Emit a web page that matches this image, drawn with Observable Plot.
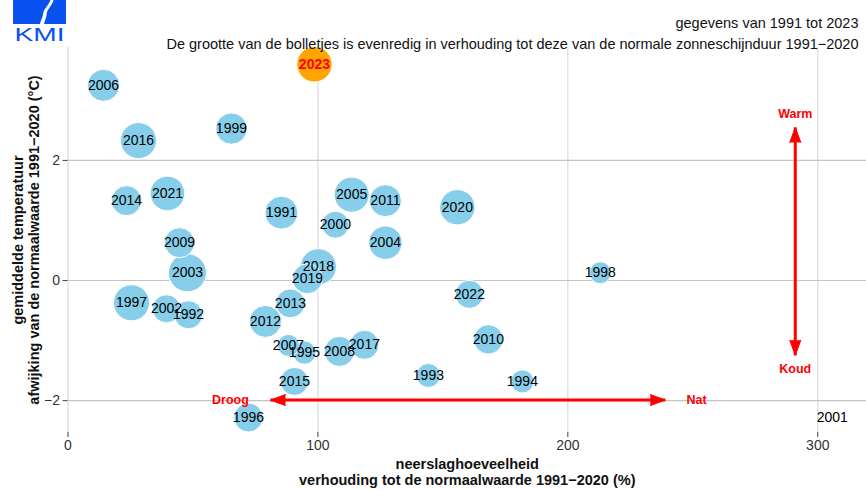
<!DOCTYPE html>
<html>
<head>
<meta charset="utf-8">
<script src="https://cdn.jsdelivr.net/npm/d3@7"></script>
<script src="https://cdn.jsdelivr.net/npm/@observablehq/plot@0.6"></script>
<style>
  html, body { margin: 0; padding: 0; background: white; }
  #wrap { position: relative; width: 866px; height: 490px; font-family: "Liberation Sans", Arial, sans-serif; }
  #logo { position: absolute; left: 12px; top: 0; }
</style>
</head>
<body>
<div id="wrap">
  <div id="chart"></div>
  <svg id="logo" width="56" height="44" viewBox="-1 0 56 44">
    <rect x="0" y="0" width="53" height="24" fill="#0a52f0"/>
    <path d="M37.5,0 L40.5,0 C39,6 34,9.5 33.7,13.5 C33.5,17.5 31.5,21 31,24 L27,24 C27.5,20.5 30,17 30.3,13 C30.6,9 36,5 37.5,0 Z" fill="white"/>
    <text x="26.5" y="40.5" text-anchor="middle" font-size="19" fill="#0a52f0" font-family="Liberation Sans, Arial, sans-serif" textLength="50" lengthAdjust="spacingAndGlyphs">KMI</text>
  </svg>
</div>
<script>
// ---- data ----
const years    = [1991, 1992, 1993, 1994, 1995, 1996, 1997, 1998, 1999, 2000, 2001, 2002, 2003, 2004, 2005, 2006, 2007, 2008, 2009, 2010, 2011, 2012, 2013, 2014, 2015, 2016, 2017, 2018, 2019, 2020, 2021, 2022, 2023];
// precipitation, % of normal 1991-2020
const precipitation = [85.4, 48.2, 144.2, 181.8, 94.6, 72.2, 25.4, 213, 65.4, 107, 305.8, 39.4, 47.8, 127, 113.5, 14.2, 88.2, 108.6, 44.6, 168.2, 127, 79, 89, 23.4, 90.6, 28.2, 118.6, 100.2, 95.8, 155.8, 39.8, 160.6, 98.6];
// mean temperature anomaly vs 1991-2020 (°C)
const temperature = [1.13, -0.57, -1.58, -1.68, -1.2, -2.28, -0.37, 0.13, 2.53, 0.93, -2.28, -0.47, 0.13, 0.63, 1.43, 3.25, -1.08, -1.18, 0.63, -0.98, 1.33, -0.68, -0.38, 1.33, -1.68, 2.33, -1.07, 0.23, 0.03, 1.22, 1.45, -0.23, 3.6];
// sunshine duration, % of normal 1991-2020 (bubble size)
const sunshine = [106, 77, 56, 52, 53, 82, 127, 47, 96, 71, 0, 77, 141, 109, 120, 100, 47, 88, 88, 84, 100, 100, 82, 88, 77, 127, 82, 127, 88, 122, 117, 77, 122];

const highlightYear = 2023;
const xTicks = [0, 100, 200, 300];
const yTicks = [-2, 0, 2];

// annotation arrows (data units)
const dryWetArrow = {from: 81, to: 239, y: -1.99};
const dryWetLabels = [{label: "Droog", x: 65, y: -1.99}, {label: "Nat", x: 251.5, y: -1.99}];
const warmColdArrow = {x: 291, from: -1.245, to: 2.55};
const warmColdLabels = [{label: "Warm", x: 291, y: 2.78}, {label: "Koud", x: 291, y: -1.48}];

const data = years.map((year, i) => ({year, precip: precipitation[i], temp: temperature[i], sun: sunshine[i]}));
const dotsOrder = data.slice().sort((a, b) => b.sun - a.sun);
const others = dotsOrder.filter(d => d.year !== highlightYear);
const hi = data.filter(d => d.year === highlightYear);

const font = "Liberation Sans, Arial, sans-serif";
const red = "#ff0000";
const intFmt = d3.format("d");

const chart = Plot.plot({
  width: 866,
  height: 490,
  marginLeft: 67.5,
  marginRight: 0,
  marginTop: 47,
  marginBottom: 58,
  style: {fontFamily: font, fontSize: "14px", background: "white", color: "#333"},
  x: {domain: [0, 319.5], label: null},
  y: {domain: [-2.53, 3.88], label: null},
  r: {type: "sqrt", domain: [0, 100], range: [0, 16]},
  marks: [
    Plot.gridX(xTicks, {stroke: "#d6d6d6", strokeOpacity: 1, strokeWidth: 1.1}),
    Plot.gridY(yTicks, {stroke: "#c4c4c4", strokeOpacity: 1, strokeWidth: 1.1}),
    Plot.axisX(xTicks, {tickSize: 5, tickPadding: 3, fontSize: 14, fill: "#333", stroke: "#444", label: null, tickFormat: intFmt}),
    Plot.axisY(yTicks, {tickSize: 5, tickPadding: 3, fontSize: 14, fill: "#333", stroke: "#444", label: null, tickFormat: intFmt}),
    // axis titles
    Plot.text(["neerslaghoeveelheid\nverhouding tot de normaalwaarde 1991\u22122020 (%)"], {
      frameAnchor: "bottom", textAnchor: "middle", lineAnchor: "top", dy: 25, fontSize: 14.5, fontWeight: "bold", fill: "#111", lineHeight: 1.1
    }),
    Plot.text(["gemiddelde temperatuur\nafwijking van de normaalwaarde 1991\u22122020 (\u00b0C)"], {
      frameAnchor: "left", textAnchor: "middle", lineAnchor: "top", rotate: -90, dx: -56, fontSize: 14.5, fontWeight: "bold", fill: "#111", lineHeight: 1.1
    }),
    // bubbles
    Plot.dot(others, {x: "precip", y: "temp", r: "sun", fill: "skyblue", stroke: "white", strokeWidth: 1}),
    Plot.dot(hi, {x: "precip", y: "temp", r: "sun", fill: "orange", stroke: "white", strokeWidth: 1}),
    Plot.text(others, {x: "precip", y: "temp", text: d => String(d.year), fontSize: 14, fill: "black"}),
    Plot.text(hi, {x: "precip", y: "temp", text: d => String(d.year), fontSize: 14, fill: red, fontWeight: "bold"}),
    // header
    Plot.text(["gegevens van 1991 tot 2023"], {frameAnchor: "top-right", textAnchor: "end", dx: -8, dy: -29.5, fontSize: 14.5, fill: "#111"}),
    Plot.text(["De grootte van de bolletjes is evenredig in verhouding tot deze van de normale zonneschijnduur 1991\u22122020"], {frameAnchor: "top-right", textAnchor: "end", dx: -8, dy: -8.5, fontSize: 14.5, fill: "#111"}),
    // dry / wet arrow
    Plot.link([dryWetArrow], {x1: "from", x2: "to", y1: "y", y2: "y", stroke: red, strokeWidth: 3}),
    Plot.vector([dryWetArrow], {x: "from", y: "y", length: 15, r: 5.5, rotate: -90, shape: "spike", anchor: "end", fill: red, stroke: red, strokeWidth: 1}),
    Plot.vector([dryWetArrow], {x: "to", y: "y", length: 15, r: 5.5, rotate: 90, shape: "spike", anchor: "end", fill: red, stroke: red, strokeWidth: 1}),
    Plot.text(dryWetLabels, {x: "x", y: "y", text: "label", fill: red, fontWeight: "bold", fontSize: 12.5}),
    // warm / cold arrow
    Plot.link([warmColdArrow], {x1: "x", x2: "x", y1: "from", y2: "to", stroke: red, strokeWidth: 3}),
    Plot.vector([warmColdArrow], {x: "x", y: "to", length: 15, r: 5.5, rotate: 0, shape: "spike", anchor: "end", fill: red, stroke: red, strokeWidth: 1}),
    Plot.vector([warmColdArrow], {x: "x", y: "from", length: 15, r: 5.5, rotate: 180, shape: "spike", anchor: "end", fill: red, stroke: red, strokeWidth: 1}),
    Plot.text(warmColdLabels, {x: "x", y: "y", text: "label", fill: red, fontWeight: "bold", fontSize: 12.5})
  ]
});
document.getElementById("chart").appendChild(chart);
</script>
</body>
</html>
